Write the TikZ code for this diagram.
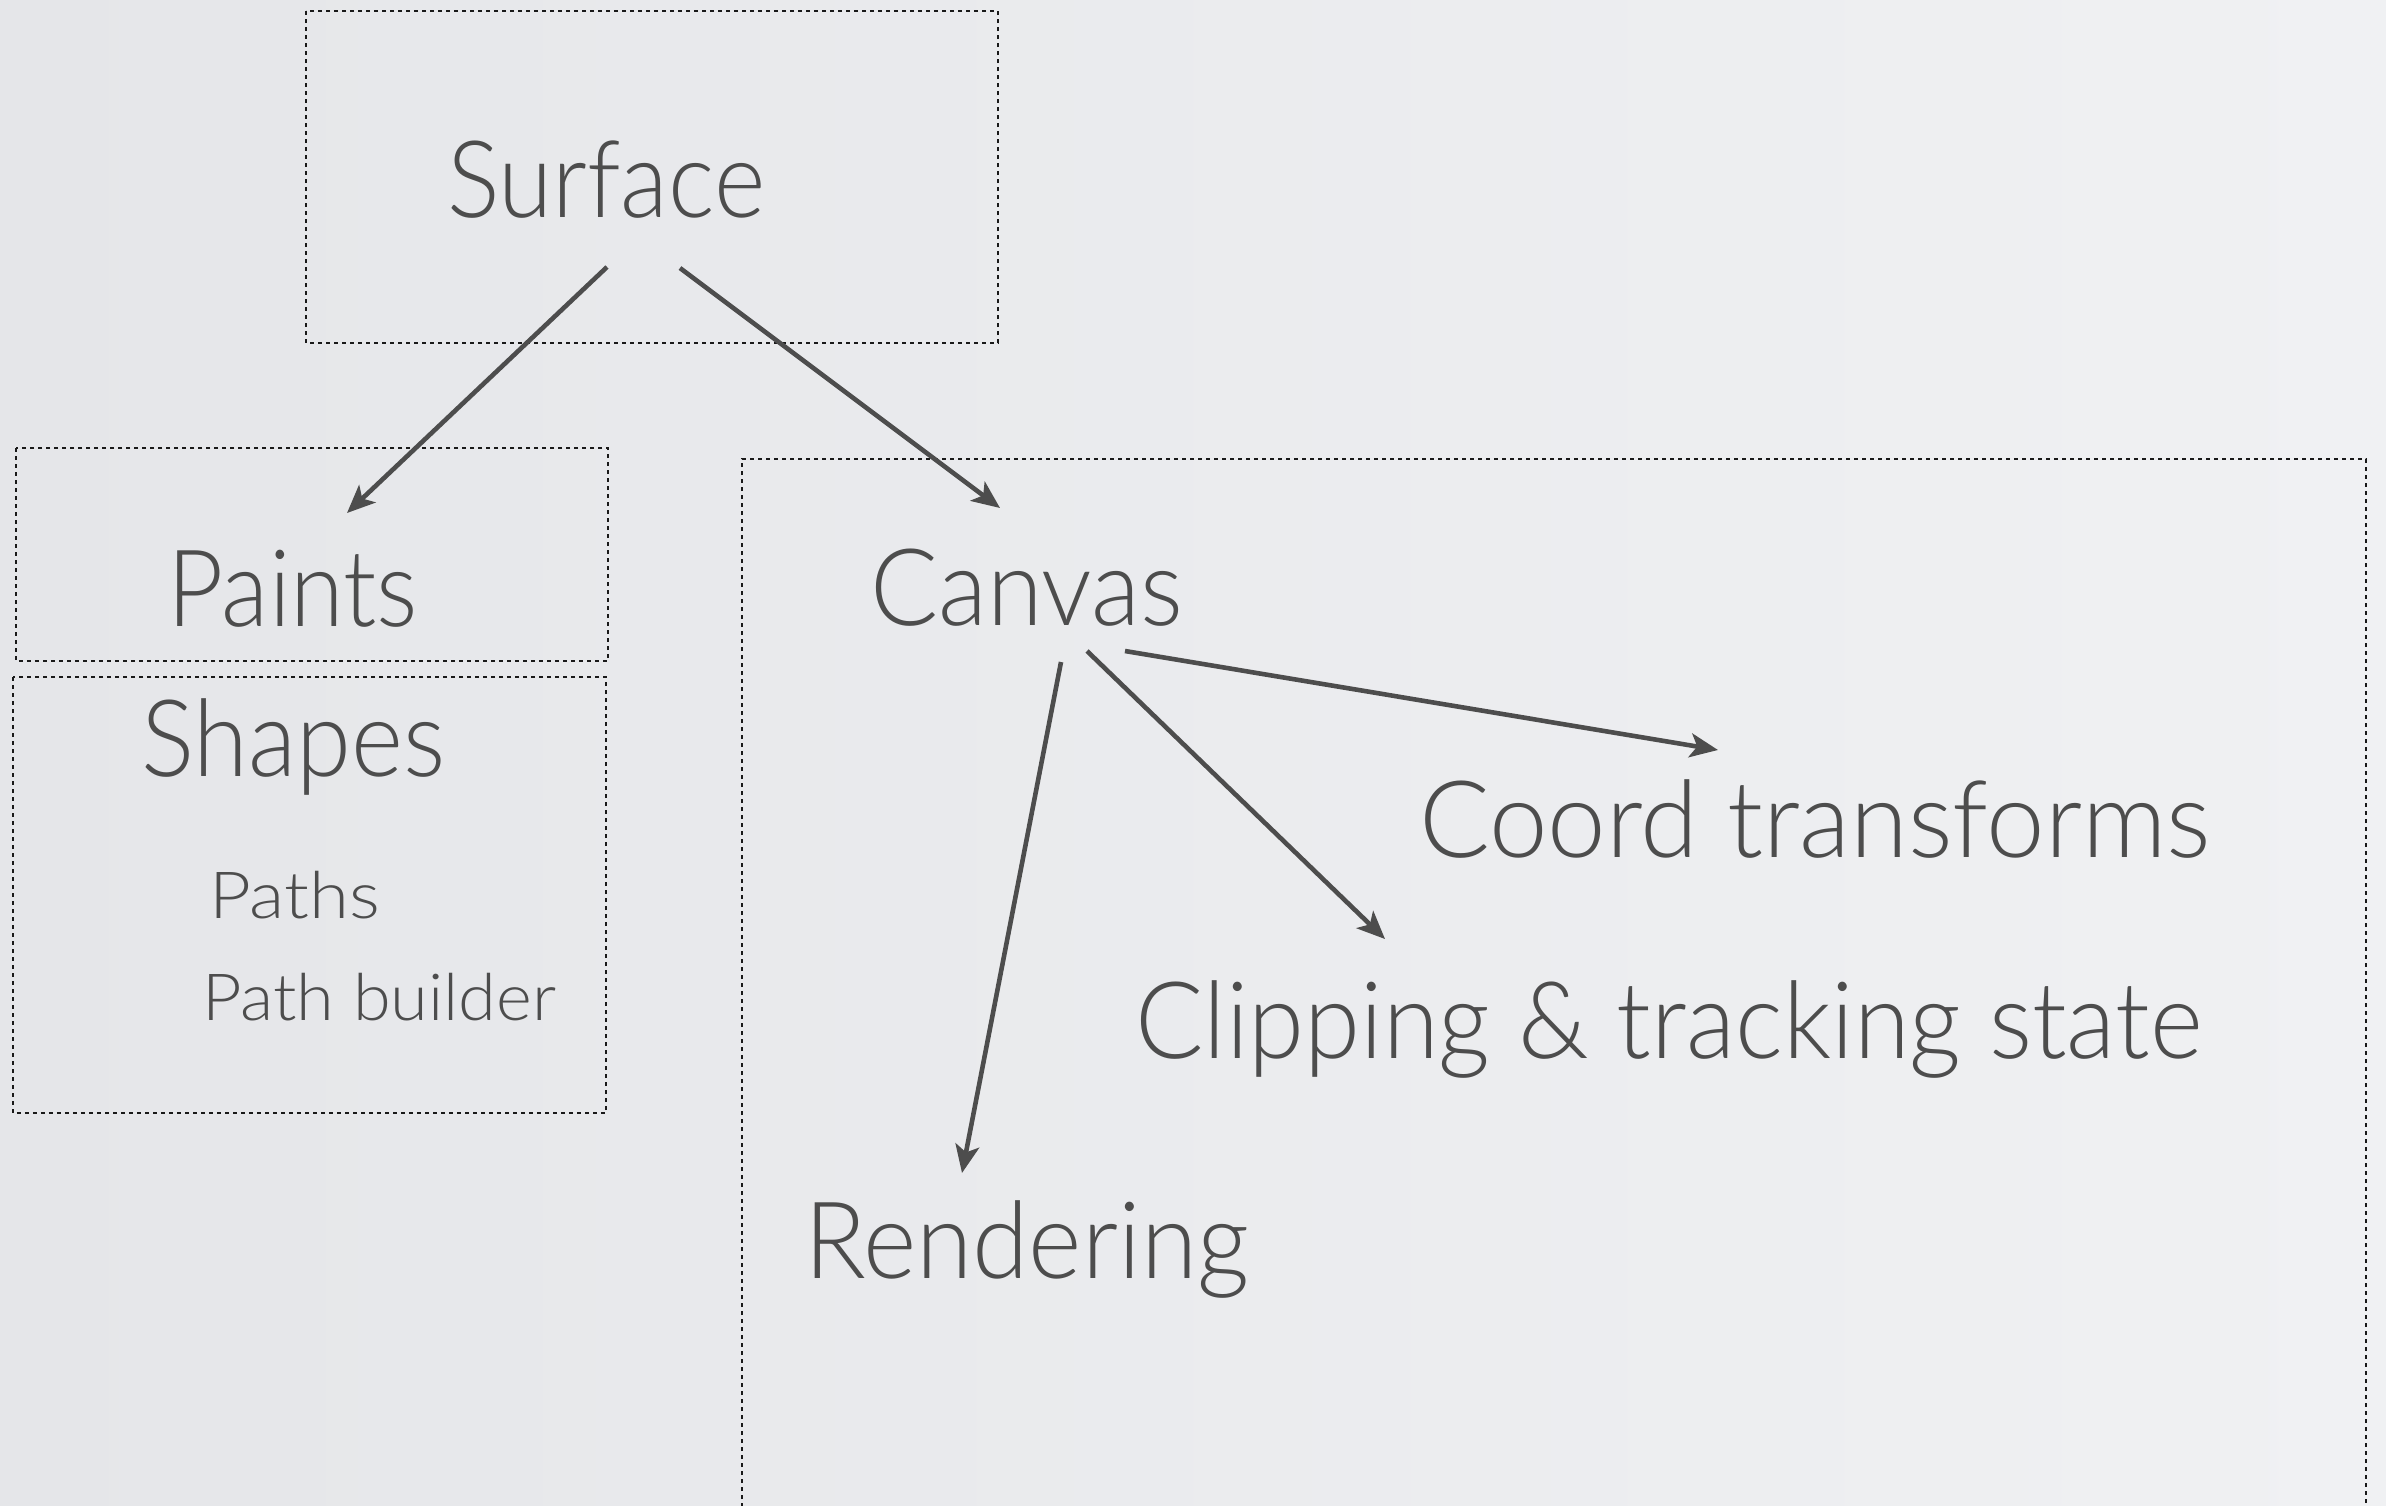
\documentclass[tikz,border=0pt]{standalone}
\usepackage{fontspec}
\setmainfont{Lato}[UprightFont=* Light]
\usetikzlibrary{arrows.meta}
\definecolor{txt}{HTML}{4D4D4D}
\definecolor{bgA}{HTML}{E5E6E9}
\definecolor{bgB}{HTML}{F0F1F3}
\newcommand{\fitto}[2]{\resizebox{#1}{\height}{#2}}
\begin{document}
\begin{tikzpicture}[x=1pt,y=-1pt,
  lbl/.style={anchor=base west,inner sep=0pt,text=txt,font=\fontsize{107}{110}\selectfont},
  small/.style={lbl,font=\fontsize{65}{70}\selectfont},
  grp/.style={draw=black!90,line width=2.8pt,dash pattern=on 4pt off 4pt},
  arr/.style={draw=txt,line width=4.6pt,-{Stealth[length=28pt,width=24pt,inset=7pt]}}]
\useasboundingbox (0,0) rectangle (2386,1505);
\shade[left color=bgA,right color=bgB] (0,0) rectangle (2386,1505);
% group boxes
\draw[grp] (306,11) rectangle (998,343);
\draw[grp] (16,448) rectangle (608,661);
\draw[grp] (13,677) rectangle (606,1113);
\draw[grp] (742,1515) -- (742,459) -- (2366,459) -- (2366,1515);
% labels
\node[lbl] (surface) at (447,217) {\fitto{318pt}{Surface}};
\node[lbl] (paints) at (167,626) {\fitto{251pt}{Paints}};
\node[lbl] (shapes) at (141,776) {\fitto{304pt}{Shapes}};
\node[small] (paths) at (209,918) {\fitto{171pt}{Paths}};
\node[small] (pathbuilder) at (202,1020) {\fitto{354pt}{Path builder}};
\node[lbl] (canvas) at (870,625) {\fitto{313pt}{Canvas}};
\node[lbl] (coord) at (1419,857) {\fitto{792pt}{Coord transforms}};
\node[lbl] (clipping) at (1135,1058) {\fitto{1067pt}{Clipping \& tracking state}};
\node[lbl] (rendering) at (804,1278) {\fitto{445pt}{Rendering}};
% connector ends
\coordinate (s1) at (607,267);
\coordinate (p1) at (347,513);
\coordinate (s2) at (680,268);
\coordinate (c0) at (1000,508);
\coordinate (c1) at (1125,651);
\coordinate (t1) at (1718,750);
\coordinate (c2) at (1087,651);
\coordinate (t2) at (1385,939);
\coordinate (c3) at (1061,662);
\coordinate (t3) at (962,1173);
\draw[arr] (s1) -- (p1);
\draw[arr] (s2) -- (c0);
\draw[arr] (c1) -- (t1);
\draw[arr] (c2) -- (t2);
\draw[arr] (c3) -- (t3);
\end{tikzpicture}
\end{document}
